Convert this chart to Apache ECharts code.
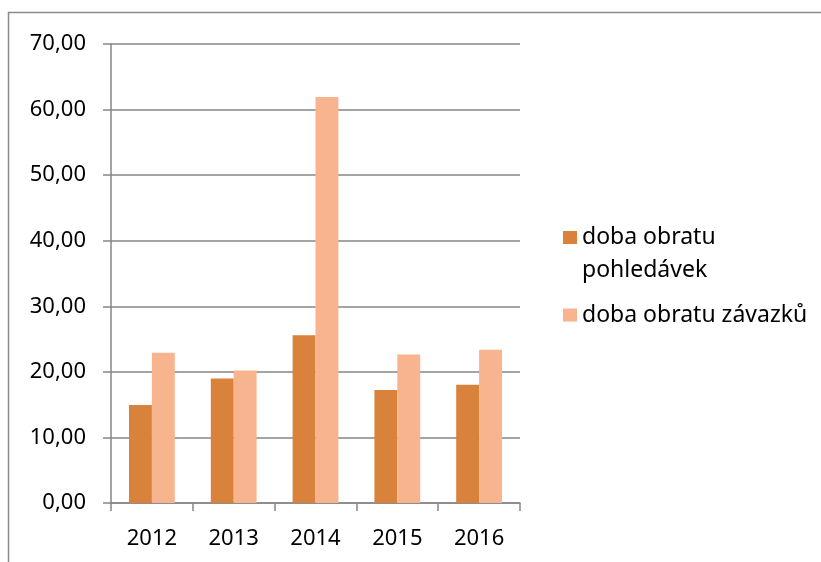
<!DOCTYPE html>
<html><head><meta charset="utf-8">
<script src="https://cdn.jsdelivr.net/npm/echarts@6/dist/echarts.min.js"></script>
<style>html,body{margin:0;padding:0;background:#fff}#c{width:821px;height:562px}</style>
</head><body><div id="c"></div>
<script>
const categories = ['2012', '2013', '2014', '2015', '2016'];
const seriesNames = ['doba obratu pohledávek', 'doba obratu závazků'];
const pohledavky = [14.95, 18.97, 25.58, 17.24, 18.05];
const zavazky = [22.93, 20.19, 61.93, 22.63, 23.39];
const yTicks = [0, 10, 20, 30, 40, 50, 60, 70];

const FONT = '"Noto Sans", "Open Sans", sans-serif';
const chart = echarts.init(document.getElementById('c'), null, {renderer: 'canvas'});
chart.setOption({
  animation: false,
  backgroundColor: '#fff',
  graphic: [{
    type: 'rect', shape: {x: 8.5, y: 12.5, width: 900, height: 700},
    style: {fill: 'none', stroke: '#8a8a8a', lineWidth: 1.5}, silent: true
  }],
  grid: {left: 111, right: 301, top: 44, bottom: 59, containLabel: false},
  legend: {
    orient: 'vertical', left: 563, top: 220.5, padding: 0, itemGap: 6,
    itemWidth: 14, itemHeight: 45,
    textStyle: {fontFamily: FONT, fontSize: 23, color: '#000', lineHeight: 33},
    formatter: function (n) { return n === seriesNames[0] ? 'doba obratu\npohledávek' : n; },
    data: [
      {name: seriesNames[0], icon: 'path://M0,0L14,0L14,13L0,13Z M0,45L0.001,45Z'},
      {name: seriesNames[1], icon: 'path://M0,16L14,16L14,29L0,29Z M0,0L0.001,0Z M0,45L0.001,45Z'}
    ]
  },
  xAxis: {
    type: 'category', data: categories,
    axisLine: {lineStyle: {color: '#868686', width: 1.5}},
    axisTick: {show: true, length: 8, lineStyle: {color: '#868686', width: 1.5}},
    axisLabel: {fontFamily: FONT, fontSize: 22, color: '#000', margin: 25}
  },
  yAxis: {
    type: 'value', min: yTicks[0], max: yTicks[yTicks.length - 1], interval: 10,
    axisLine: {show: true, lineStyle: {color: '#868686', width: 1.5}},
    axisTick: {show: true, length: 8, lineStyle: {color: '#868686', width: 1.5}},
    splitLine: {lineStyle: {color: '#868686', width: 1.5}},
    axisLabel: {fontFamily: FONT, fontSize: 22, color: '#000', margin: 25,
      formatter: function (v) { return v.toFixed(2).replace('.', ','); }}
  },
  series: [
    {name: seriesNames[0], type: 'bar', data: pohledavky, barGap: '0%', barCategoryGap: '44%',
     itemStyle: {color: '#D9823B'}},
    {name: seriesNames[1], type: 'bar', data: zavazky, barGap: '0%', barCategoryGap: '44%',
     itemStyle: {color: '#F8B48E'}}
  ]
});
</script></body></html>
